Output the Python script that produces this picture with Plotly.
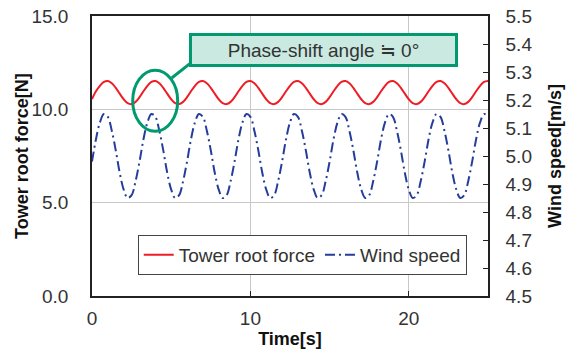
import plotly.graph_objects as go

# Sampling instants [s]
time_s = [
    0.00, 0.25, 0.50, 0.75, 1.00, 1.25, 1.50, 1.75, 2.00, 2.25, 2.50, 2.75,
    3.00, 3.25, 3.50, 3.75, 4.00, 4.25, 4.50, 4.75, 5.00, 5.25, 5.50, 5.75,
    6.00, 6.25, 6.50, 6.75, 7.00, 7.25, 7.50, 7.75, 8.00, 8.25, 8.50, 8.75,
    9.00, 9.25, 9.50, 9.75, 10.00, 10.25, 10.50, 10.75, 11.00, 11.25, 11.50, 11.75,
    12.00, 12.25, 12.50, 12.75, 13.00, 13.25, 13.50, 13.75, 14.00, 14.25, 14.50, 14.75,
    15.00, 15.25, 15.50, 15.75, 16.00, 16.25, 16.50, 16.75, 17.00, 17.25, 17.50, 17.75,
    18.00, 18.25, 18.50, 18.75, 19.00, 19.25, 19.50, 19.75, 20.00, 20.25, 20.50, 20.75,
    21.00, 21.25, 21.50, 21.75, 22.00, 22.25, 22.50, 22.75, 23.00, 23.25, 23.50, 23.75,
    24.00, 24.25, 24.50, 24.75, 25.00,
]

# Tower root force [N]
tower_force_N = [
    10.55, 10.97, 11.26, 11.47, 11.52, 11.40, 11.15, 10.84, 10.54, 10.33, 10.28, 10.40,
    10.65, 10.97, 11.26, 11.47, 11.52, 11.40, 11.15, 10.84, 10.54, 10.33, 10.28, 10.40,
    10.65, 10.97, 11.26, 11.47, 11.52, 11.40, 11.15, 10.84, 10.54, 10.33, 10.28, 10.40,
    10.65, 10.97, 11.26, 11.47, 11.52, 11.40, 11.15, 10.84, 10.54, 10.33, 10.28, 10.40,
    10.65, 10.97, 11.26, 11.47, 11.52, 11.40, 11.15, 10.84, 10.54, 10.33, 10.28, 10.40,
    10.65, 10.97, 11.26, 11.47, 11.52, 11.40, 11.15, 10.84, 10.54, 10.33, 10.28, 10.40,
    10.65, 10.97, 11.26, 11.47, 11.52, 11.40, 11.15, 10.84, 10.54, 10.33, 10.28, 10.40,
    10.65, 10.97, 11.26, 11.47, 11.52, 11.40, 11.15, 10.84, 10.54, 10.33, 10.28, 10.40,
    10.65, 10.97, 11.26, 11.47, 11.52,
]

# Wind speed [m/s]
wind_speed_ms = [
    4.98, 5.06, 5.12, 5.15, 5.14, 5.09, 5.02, 4.94, 4.88, 4.85, 4.86, 4.91,
    4.98, 5.06, 5.12, 5.15, 5.14, 5.09, 5.02, 4.94, 4.88, 4.85, 4.86, 4.91,
    4.98, 5.06, 5.12, 5.15, 5.14, 5.09, 5.02, 4.94, 4.88, 4.85, 4.86, 4.91,
    4.98, 5.06, 5.12, 5.15, 5.14, 5.09, 5.02, 4.94, 4.88, 4.85, 4.86, 4.91,
    4.98, 5.06, 5.12, 5.15, 5.14, 5.09, 5.02, 4.94, 4.88, 4.85, 4.86, 4.91,
    4.98, 5.06, 5.12, 5.15, 5.14, 5.09, 5.02, 4.94, 4.88, 4.85, 4.86, 4.91,
    4.98, 5.06, 5.12, 5.15, 5.14, 5.09, 5.02, 4.94, 4.88, 4.85, 4.86, 4.91,
    4.98, 5.06, 5.12, 5.15, 5.14, 5.09, 5.02, 4.94, 4.88, 4.85, 4.86, 4.91,
    4.98, 5.06, 5.12, 5.15, 5.14,
]

x_ticks = [0, 10, 20]
force_ticks = [0, 5, 10, 15]
wind_ticks = [4.5, 4.6, 4.7, 4.8, 4.9, 5.0, 5.1, 5.2, 5.3, 5.4, 5.5]

RED = "#ee1c25"
BLUE = "#243d9c"
GREEN = "#009a6e"
FONT = "Arial, Liberation Sans, sans-serif"

fig = go.Figure()
fig.add_trace(go.Scatter(
    x=time_s, y=tower_force_N, name="Tower root force", mode="lines",
    line=dict(color=RED, width=2, shape="spline"), yaxis="y",
))
fig.add_trace(go.Scatter(
    x=time_s, y=wind_speed_ms, name="Wind speed", mode="lines",
    line=dict(color=BLUE, width=2, dash="10px,4px,2px,4px", shape="spline"), yaxis="y2",
))

axis_line = dict(showline=True, linecolor="#222", linewidth=1.5, automargin=False)
title_font = dict(size=18, color="#111")

fig.update_layout(
    width=577, height=354,
    margin=dict(l=92, r=89, t=16, b=58),
    plot_bgcolor="white", paper_bgcolor="white",
    font=dict(family=FONT, size=19, color="#333"),
    xaxis=dict(
        range=[0, 25], tickvals=x_ticks, showgrid=True, gridcolor="#c8c8c8", gridwidth=1,
        zeroline=False, mirror=True, ticks="inside", ticklen=5, tickcolor="#222",
        ticklabelstandoff=4,
        title=dict(text="<b>Time[s]</b>", font=title_font, standoff=3),
        **axis_line,
    ),
    yaxis=dict(
        range=[0, 15], tickvals=force_ticks, tickformat=".1f", showgrid=True,
        gridcolor="#c8c8c8", gridwidth=1, zeroline=False, mirror=True, ticks="",
        ticklabelstandoff=18,
        **axis_line,
    ),
    yaxis2=dict(
        range=[4.5, 5.5], tickvals=wind_ticks, tickformat=".1f", overlaying="y", side="right",
        showgrid=False, zeroline=False, ticks="inside", ticklen=5, tickcolor="#222",
        ticklabelstandoff=12,
        title=dict(text="<b>Wind speed[m/s]</b>", font=title_font, standoff=17),
        **axis_line,
    ),
    legend=dict(
        orientation="h", x=0.1155, y=0.218, xanchor="left", yanchor="top",
        bgcolor="white", bordercolor="#444", borderwidth=1,
        font=dict(size=19, color="#333"), itemwidth=30,
    ),
    shapes=[
        dict(type="circle", xref="x", yref="y", x0=2.57, x1=5.41, y0=8.82, y1=12.10,
             line=dict(color=GREEN, width=3), layer="above"),
        dict(type="line", xref="x", yref="y", x0=5.03, y0=11.68, x1=6.30, y1=12.53,
             line=dict(color=GREEN, width=3), layer="above"),
    ],
    annotations=[
        dict(text="<b>Tower root force[N]</b>", xref="paper", yref="paper",
             x=-0.177, y=0.5, xanchor="center", yanchor="middle", textangle=-90,
             showarrow=False, font=title_font),
        dict(text="Phase-shift angle ≒ 0°", xref="paper", yref="paper",
             x=0.584, y=0.879, xanchor="center", yanchor="middle", showarrow=False,
             width=263, height=28, bgcolor="#c9e9e1", bordercolor=GREEN, borderwidth=3,
             borderpad=0, font=dict(size=19, color="#333")),
    ],
)

fig.write_html("out.html")
